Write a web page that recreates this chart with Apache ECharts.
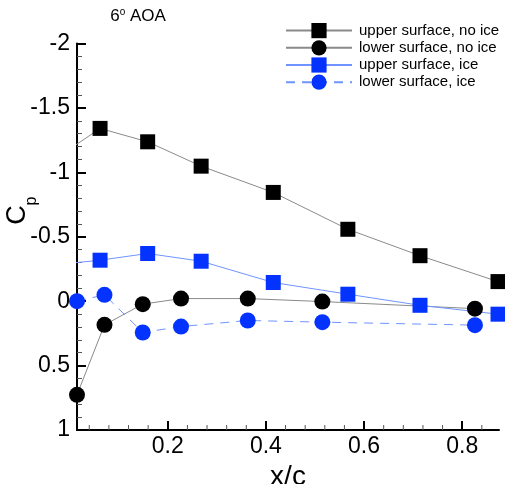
<!DOCTYPE html>
<html>
<head>
<meta charset="utf-8">
<script src="https://cdn.jsdelivr.net/npm/echarts@6/dist/echarts.min.js"></script>
<style>
  html, body { margin: 0; padding: 0; background: #fff; }
  #chart { width: 505px; height: 484px; }
</style>
</head>
<body>
<div id="chart"></div>
<script>
// x/c stations of the squares (first one sits left of the plot and gets clipped)
const upperX = [0, 0.062, 0.159, 0.268, 0.415, 0.567, 0.714, 0.873]
const lowerX = [0.015, 0.071, 0.149, 0.227, 0.363, 0.515, 0.826]

// pressure coefficients
const upperNoIce = [-1.18, -1.341, -1.237, -1.048, -0.844, -0.558, -0.353, -0.152]
const lowerNoIce = [0.727, 0.184, 0.023, -0.02, -0.02, 0.003, 0.058]
const upperIce = [-0.294, -0.318, -0.37, -0.31, -0.145, -0.054, 0.032, 0.101]
const lowerIce = [0.0, -0.049, 0.243, 0.197, 0.15, 0.163, 0.186]

const seriesNames = ['upper surface, no ice', 'lower surface, no ice', 'upper surface, ice', 'lower surface, ice']

// tick positions on x/c
const xMajor = [0.2, 0.4, 0.6, 0.8]
const xMinor = [0.04, 0.08, 0.12, 0.16, 0.24, 0.28, 0.32, 0.36, 0.44, 0.48, 0.52, 0.56, 0.64, 0.68, 0.72, 0.76, 0.84]

const FONT = 'Liberation Sans, Arial, Helvetica, sans-serif'
const BLACK = '#000'
const GRAY_LINE = '#8a8a8a'
const BLUE = '#0433ff'
const BLUE_LINE = '#6f94ff'
const Y_MIN = -2
const Y_MAX = 1

function pairs (xs, ys) {
  return xs.map(function (x, i) { return [x, ys[i]] })
}

// short inward ticks on the bottom edge, placed through the x scale
function minorTickItem (params, api) {
  const p = api.coord([api.value(0), Y_MAX])
  return {
    type: 'line',
    shape: { x1: p[0], y1: p[1], x2: p[0], y2: p[1] - 5 },
    style: { stroke: '#555', lineWidth: 1 }
  }
}

const chart = echarts.init(document.getElementById('chart'))
chart.setOption({
  animation: false,
  backgroundColor: '#fff',
  grid: {
    left: 77,
    right: 6,
    top: 43.5,
    bottom: 54,
    containLabel: false,
    outerBoundsMode: 'none'
  },
  legend: {
    left: 280,
    top: 18,
    orient: 'vertical',
    itemWidth: 66,
    itemHeight: 19,
    itemGap: 2,
    textStyle: { fontFamily: FONT, fontSize: 15, color: '#000', padding: [0, 0, 0, 2] },
    data: seriesNames
  },
  graphic: [
    {
      type: 'text',
      x: 138,
      y: 16,
      style: {
        text: '6{s|o} AOA',
        font: '17px ' + FONT,
        fill: '#000',
        align: 'center',
        verticalAlign: 'middle',
        rich: {
          s: { fontSize: 10, fontFamily: FONT, verticalAlign: 'top' }
        }
      }
    },
    {
      type: 'text',
      x: 17.5,
      y: 215,
      rotation: Math.PI / 2,
      style: { text: 'C', font: '27px ' + FONT, fill: '#000', align: 'center', verticalAlign: 'middle' }
    },
    {
      type: 'text',
      x: 32,
      y: 201,
      rotation: Math.PI / 2,
      style: { text: 'p', font: '16px ' + FONT, fill: '#000', align: 'center', verticalAlign: 'middle' }
    }
  ],
  xAxis: {
    type: 'value',
    min: 0.015,
    max: 0.875,
    name: 'x/c',
    nameLocation: 'middle',
    nameGap: 26,
    nameTextStyle: { fontFamily: FONT, fontSize: 28, color: '#000' },
    axisLine: { show: true, onZero: false, lineStyle: { color: BLACK, width: 2 } },
    axisTick: { show: true, inside: true, length: 9, customValues: xMajor, lineStyle: { color: BLACK, width: 2 } },
    axisLabel: { customValues: xMajor, fontFamily: FONT, fontSize: 23, color: '#000', margin: 5 },
    splitLine: { show: false }
  },
  yAxis: {
    type: 'value',
    inverse: true,
    min: Y_MIN,
    max: Y_MAX,
    interval: 0.5,
    axisLine: { show: true, onZero: false, lineStyle: { color: BLACK, width: 2 } },
    axisTick: { show: true, inside: true, length: 9, lineStyle: { color: BLACK, width: 2 } },
    minorTick: { show: true, splitNumber: 5, length: 5, lineStyle: { color: '#555', width: 1 } },
    axisLabel: { fontFamily: FONT, fontSize: 23, color: '#000', margin: 7 },
    splitLine: { show: false }
  },
  series: [
    {
      type: 'custom',
      silent: true,
      clip: false,
      renderItem: minorTickItem,
      encode: { x: 0 },
      data: xMinor.map(function (x) { return [x] }),
      z: 1
    },
    {
      name: seriesNames[0],
      type: 'line',
      symbol: 'rect',
      symbolSize: 15,
      clip: true,
      itemStyle: { color: BLACK },
      lineStyle: { color: GRAY_LINE, width: 1 },
      data: pairs(upperX, upperNoIce)
    },
    {
      name: seriesNames[1],
      type: 'line',
      symbol: 'circle',
      symbolSize: 16,
      clip: false,
      itemStyle: { color: BLACK },
      lineStyle: { color: GRAY_LINE, width: 1 },
      data: pairs(lowerX, lowerNoIce)
    },
    {
      name: seriesNames[2],
      type: 'line',
      symbol: 'rect',
      symbolSize: 15,
      clip: true,
      itemStyle: { color: BLUE },
      lineStyle: { color: BLUE_LINE, width: 1 },
      data: pairs(upperX, upperIce)
    },
    {
      name: seriesNames[3],
      type: 'line',
      symbol: 'circle',
      symbolSize: 16,
      clip: false,
      itemStyle: { color: BLUE },
      lineStyle: { color: BLUE_LINE, width: 1, type: [9, 7] },
      data: pairs(lowerX, lowerIce)
    }
  ]
})
</script>
</body>
</html>
